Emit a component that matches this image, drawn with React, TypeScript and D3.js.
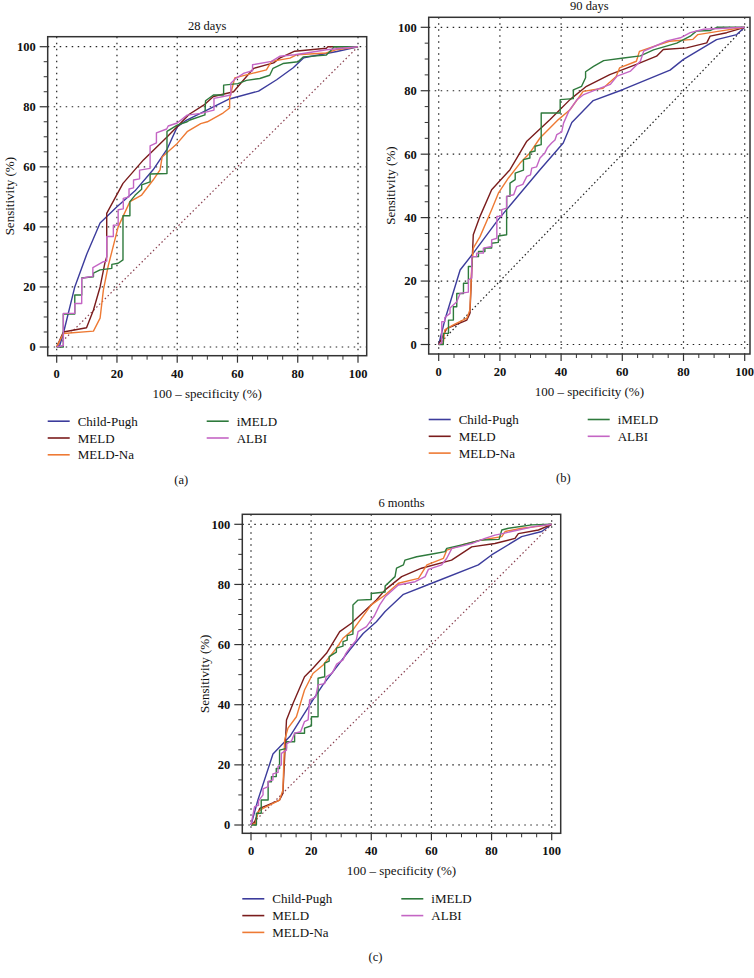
import React, { useEffect, useRef } from 'react';
import * as d3 from 'd3';

type Pt = [number, number];

const seriesNames = ['Child-Pugh', 'MELD', 'MELD-Na', 'iMELD', 'ALBI'];
const seriesColors = ['#3c3c9c', '#7a1c1c', '#ee7a34', '#2e7a3c', '#c465c4'];
const panelTitles = ['28 days', '90 days', '6 months'];
const panelTags = ['(a)', '(b)', '(c)'];
const majorTicks = [0, 20, 40, 60, 80, 100];
const minorTicks = [5, 10, 15, 25, 30, 35, 45, 50, 55, 65, 70, 75, 85, 90, 95];
const chanceLine: Pt[] = [[0, 0], [100, 100]];

// 28 days
const cp28: Pt[] = [[0,0],[1,0.5],[2.2,4.5],[6,20],[10,31],[14.4,41.3],[20,46.7],[26,52],[32,59],[36.7,66],[40,73.3],[43,75.5],[50,79],[57,82.5],[67,85.2],[73,89],[78.5,93],[82,96.3],[93,98.4],[100,100]];
const meld28: Pt[] = [[0,0],[2.2,5],[9.9,6.4],[12.2,12.3],[14.4,20],[16,28],[16.6,30],[16.6,44.5],[22,54.5],[28.8,62.3],[36.7,70],[41,74.4],[44,77.5],[48.9,80.6],[52,83.4],[58.7,85],[63,90.1],[65.4,92.8],[72,94.6],[74,96.2],[79,98.5],[89.5,99.5],[90,100],[100,100]];
const mna28: Pt[] = [[0,0],[2.2,4.5],[12.2,5.3],[14.4,9.6],[15.5,19],[17.1,27],[20.4,40],[24.3,48.4],[28.2,50.6],[32,55.6],[34.3,59],[35,63.3],[40,67.8],[43.3,71.7],[47.8,74.4],[50,75],[55.2,77.9],[57.4,79.6],[57.4,82.9],[59.1,89.6],[65.2,91.2],[69.6,92.3],[71.3,95.1],[77.4,96.2],[79.6,97.3],[89.5,97.9],[92.8,99],[100,100]];
const imeld28: Pt[] = [[0,0],[2.2,0],[2.2,11],[6,11],[6,17.3],[8.3,17.3],[8.3,23],[12.2,23.4],[12.2,24.6],[14.4,25.7],[18.3,26.2],[18.3,27.5],[20.4,27.9],[22,29],[22,43.7],[24.3,43.7],[24.3,48.4],[26,50.5],[28.2,52.5],[28.2,54],[31,55],[31,57.6],[36.6,57.8],[36.6,71.8],[40,73.9],[43.3,75],[44.2,75.6],[49.2,77.3],[49.4,82],[52,83.9],[55.4,83.9],[55.4,87.2],[60.1,87.7],[63,88.8],[67.4,89.4],[70.7,90.5],[71.8,92.8],[75.1,94.4],[80.1,95],[81.8,96.6],[89.5,97.2],[91.7,99.5],[92,100],[100,100]];
const albi28: Pt[] = [[0,0],[2.2,0.5],[2.2,11.2],[6,11.2],[6,14.5],[8.3,14.5],[8.3,22.8],[10.4,23.3],[12,23.5],[12,26.4],[15.5,28.4],[16.6,28.6],[16.6,36.8],[18.8,36.8],[18.8,40.6],[20.4,40.6],[20.4,45.7],[22.1,46],[22.1,49.5],[24,50],[24,52.6],[25.5,53],[25.5,55.6],[27.5,56],[27.5,58.9],[31,59.5],[31,67],[33.1,68],[33.1,71.3],[36.5,72.6],[37,73.6],[40,74.6],[43.3,77.2],[47.8,77.8],[52.2,78.9],[52.2,82.8],[57.8,83.9],[57.8,87.8],[59.4,89.4],[62.2,91.2],[65,92],[65,94],[71.3,95.1],[74,96.8],[79,97.3],[82.9,97.9],[89.5,99],[100,100]];

// 90 days
const cp90: Pt[] = [[0,0],[2,7.7],[7,23.5],[11.3,28.8],[19,38.8],[24.4,45.1],[33.1,55.1],[40.7,63.5],[43.5,70],[50.5,76.9],[60.3,80.4],[75.6,86.5],[80,89.9],[90.8,96.1],[97.4,97.7],[100,100]];
const meld90: Pt[] = [[0,0],[2.6,5],[9.2,7.7],[10.2,9.8],[11.3,34.6],[13.5,40.4],[17.3,48.8],[23.3,55.1],[28.8,64.1],[36.4,70.9],[42.9,77.2],[48.3,81.4],[55.9,85.1],[64.6,88.3],[71.2,90.9],[73.4,93],[81,93.5],[87.6,95.1],[88.7,97.2],[94.1,98.3],[100,100]];
const mna90: Pt[] = [[0,0],[1.5,0.5],[2,4.6],[4.8,6.2],[9.2,8.3],[10.2,10.9],[10.8,24.6],[11.3,30.4],[13.5,34],[17.3,42.5],[19.5,47.7],[22.8,52.5],[26.6,57.2],[29.8,60.4],[33.1,65.1],[39.1,70.9],[42.9,74],[47.2,79.8],[53.7,80.8],[58,84.5],[59.1,87.2],[64.6,89.3],[65.6,92.4],[68.9,93.5],[75.4,95.6],[83.1,96.2],[84.7,97.7],[91.8,98.8],[100,100]];
const imeld90: Pt[] = [[0,0],[1.5,0],[1.5,3.5],[3.2,3.5],[3.2,7.7],[4.8,7.7],[4.8,11.9],[5.9,11.9],[5.9,16.1],[8.1,16.1],[8.1,19.3],[9.7,19.3],[9.7,24.6],[10.8,24.6],[10.8,27.7],[13,27.7],[13,29.3],[15.1,29.3],[15.1,30.4],[17.3,30.4],[17.3,31.9],[19.5,32.2],[19.5,34.2],[22.2,34.6],[22.2,46.7],[23.3,46.7],[23.3,50.9],[25,52],[25,54],[27.7,55],[27.7,58.3],[29.8,58.8],[29.8,60.6],[31.5,61],[31.5,62.5],[33.5,63],[33.5,73],[39.7,73],[39.7,77.2],[44,77.5],[44,80.3],[46.7,81.4],[48,84.1],[48,86],[50.6,87.7],[53.9,89.5],[60.4,90.3],[65.9,91],[70.2,92.9],[77.8,95],[82.2,97.2],[84.2,98.8],[88.8,99],[90.9,100],[100,100]];
const albi90: Pt[] = [[0,0],[1,0.5],[1,7.2],[2,7.2],[2,8.5],[3.7,9.8],[3.7,11.5],[5.9,13.5],[7,16.1],[9.7,16.5],[9.7,20.4],[10.8,21],[10.8,27.7],[12.4,27.7],[12.4,28.8],[14.6,28.8],[14.6,30.4],[17.3,30.9],[17.3,33],[19,33.5],[19,40.4],[20.6,40.4],[20.6,42.5],[22.2,43],[22.2,46.7],[24.5,47.2],[25.5,49.8],[27.5,50.5],[28.8,53],[30,53.5],[30.4,55.6],[32,56],[33.1,58.8],[34.7,60.4],[35.5,62],[36.9,63.5],[38,64.5],[38.6,66.2],[40.2,67],[40.8,69.8],[42.5,73.5],[45.2,77.2],[47.4,78.8],[51.7,80.4],[56.1,82],[58.3,84.6],[62.7,86.2],[65.9,89.3],[67,92.5],[70.8,94.1],[74.6,95.7],[79,96.7],[82.2,98.3],[86.6,99.4],[100,100]];

// 6 months
const cp6m: Pt[] = [[0,0],[2.3,8.3],[7.3,23.6],[12.9,29.4],[20.6,41.6],[23.9,46.6],[32.8,58.2],[37.3,63.7],[41.7,67.6],[44.6,71],[50.7,76.7],[60.1,80.4],[75.6,86.5],[80,89.8],[90,95.9],[96.7,97.6],[100,100]];
const meld6m: Pt[] = [[0,0],[1.2,1],[2.9,5.5],[9.5,8.3],[10.6,10.5],[11.8,34.9],[14,40.5],[17.8,49.3],[20.6,52.1],[25.1,57.1],[29.5,64.3],[33.4,67.1],[41.7,74.8],[44.6,78.2],[50.1,82.6],[56.7,85.4],[66.7,88.1],[73.4,92.5],[81.1,93.6],[87.8,95.3],[88.9,96.9],[95.6,98.1],[100,100]];
const mna6m: Pt[] = [[0,0],[1.5,0.5],[2.3,4.4],[4,5.5],[9.5,8.3],[10.6,11.6],[11.2,28.3],[12.3,32.2],[15.1,36],[17.8,44.9],[20.6,50.4],[24,53.2],[28.4,58.8],[30.6,62.1],[33.9,64.9],[40,73.2],[44.6,76.5],[49,80.4],[55.7,82],[58.5,86.5],[64,88.7],[65.1,91.4],[70.1,93.1],[76.7,94.8],[83.4,95.9],[84.5,97.6],[90,98.7],[95.6,99.3],[100,100]];
const imeld6m: Pt[] = [[0,0],[1.8,0],[1.8,3.9],[3.4,3.9],[3.4,8.3],[5.7,8.3],[5.7,14.4],[6.8,14.4],[6.8,16.1],[8.4,16.1],[8.4,18.8],[9.5,18.8],[9.5,24.9],[11.8,25.5],[11.8,27.7],[14.5,27.7],[14.5,30.5],[17.8,30.5],[17.8,32.2],[20.1,33],[20.1,36],[22.3,36],[22.3,48.8],[24.5,49.3],[24.5,53.8],[26,54.5],[26,56],[28.4,57.5],[28.4,58.8],[30.6,59.5],[30.6,61],[32,61.5],[32,63],[33.9,63.5],[33.9,73.2],[35.6,74.8],[40,75],[40,77],[44.6,77.5],[44.6,79.5],[47.9,82.6],[48.4,85.4],[50.7,86.5],[51.2,88.1],[55.1,89.2],[61.2,90.3],[64.5,90.9],[65.1,92],[70.1,93.1],[76.7,94.8],[82.5,95],[83.4,98.1],[85.6,98.7],[93.4,99.8],[100,100]];
const albi6m: Pt[] = [[0,0],[1.2,6.1],[2.5,6.5],[2.5,8],[4,10],[4,12],[5.7,12.8],[5.7,14.5],[7.3,15],[7.3,17],[9,17.5],[9,19.5],[10.1,20],[10.1,23.8],[11.8,24.9],[11.8,27],[13.5,28],[14.5,30.5],[16.5,31],[17.8,34.4],[19,35],[19.5,41.6],[21.5,42.5],[22.3,46.6],[24.5,47],[25,49.3],[27,50.5],[28.5,53.5],[30.6,54.9],[31.5,57],[32.8,58.8],[35,61.5],[35.6,64.3],[38.4,66],[40,68.2],[41,69.5],[42.8,73.2],[44.6,75.9],[49,79.8],[54.6,80.9],[57.9,82.6],[59,85],[63.4,86.5],[65.1,88.7],[66.8,92],[69,92.5],[73.4,93.6],[77.8,95.3],[81.1,96.4],[84,97],[88.9,98.1],[94.5,99.3],[100,100]];

const panelSeries: Pt[][][] = [
  [cp28, meld28, mna28, imeld28, albi28],
  [cp90, meld90, mna90, imeld90, albi90],
  [cp6m, meld6m, mna6m, imeld6m, albi6m],
];

// layout of each panel (pixels)
const layouts = [
  { box: [47.7, 36.7, 366.7, 355.7], xr: [56.7, 358], yr: [347, 46.7], diag: '#8a4050' },
  { box: [428.7, 17.3, 750, 354], xr: [438.7, 744.7], yr: [344.5, 27.3], diag: '#222' },
  { box: [242.3, 514.3, 560.7, 833.3], xr: [251, 551.7], yr: [825, 524.3], diag: '#8a4050' },
];

const FONT = '"Liberation Serif", "DejaVu Serif", serif';

export default function App() {
  const svgRef = useRef<SVGSVGElement | null>(null);

  useEffect(() => {
    if (!svgRef.current) return;
    const svg = d3.select(svgRef.current);
    svg.selectAll('*').remove();

    layouts.forEach((lay, pi) => {
      const [bx0, by0, bx1, by1] = lay.box;
      const x = d3.scaleLinear().domain([0, 100]).range(lay.xr);
      const y = d3.scaleLinear().domain([0, 100]).range(lay.yr);
      const g = svg.append('g').attr('font-family', FONT).attr('fill', '#111');
      const cx = (bx0 + bx1) / 2;
      const cy = (by0 + by1) / 2;

      // grid
      majorTicks.forEach((t) => {
        g.append('line').attr('x1', x(t)).attr('x2', x(t)).attr('y1', by0).attr('y2', by1)
          .attr('stroke', '#222').attr('stroke-width', 1.2).attr('stroke-dasharray', '1.5,4.5');
        g.append('line').attr('y1', y(t)).attr('y2', y(t)).attr('x1', bx0).attr('x2', bx1)
          .attr('stroke', '#222').attr('stroke-width', 1.2).attr('stroke-dasharray', '1.5,4.5');
      });

      const line = d3.line<Pt>().x((d) => x(d[0])).y((d) => y(d[1]));

      // chance diagonal
      g.append('path').attr('d', line(chanceLine) || '').attr('fill', 'none')
        .attr('stroke', lay.diag).attr('stroke-width', 1.2).attr('stroke-dasharray', '1.5,2.5');

      // ROC curves
      panelSeries[pi].forEach((pts, si) => {
        g.append('path').attr('d', line(pts) || '').attr('fill', 'none')
          .attr('stroke', seriesColors[si]).attr('stroke-width', 1.4)
          .attr('stroke-linejoin', 'round');
      });

      // frame
      g.append('rect').attr('x', bx0).attr('y', by0).attr('width', bx1 - bx0).attr('height', by1 - by0)
        .attr('fill', 'none').attr('stroke', '#333').attr('stroke-width', 1.5);

      // ticks
      majorTicks.forEach((t) => {
        g.append('line').attr('x1', bx0 - 8).attr('x2', bx0).attr('y1', y(t)).attr('y2', y(t))
          .attr('stroke', '#333').attr('stroke-width', 1.2);
        g.append('line').attr('y1', by1).attr('y2', by1 + 7).attr('x1', x(t)).attr('x2', x(t))
          .attr('stroke', '#333').attr('stroke-width', 1.2);
        g.append('text').attr('x', bx0 - 12).attr('y', y(t)).attr('dy', '0.35em')
          .attr('text-anchor', 'end').attr('font-size', 12.5).attr('font-weight', 'bold').text(t);
        g.append('text').attr('x', x(t)).attr('y', by1 + 22)
          .attr('text-anchor', 'middle').attr('font-size', 12.5).attr('font-weight', 'bold').text(t);
      });
      minorTicks.forEach((t) => {
        g.append('line').attr('x1', bx0 - 4).attr('x2', bx0).attr('y1', y(t)).attr('y2', y(t))
          .attr('stroke', '#333').attr('stroke-width', 1);
        g.append('line').attr('y1', by1).attr('y2', by1 + 4).attr('x1', x(t)).attr('x2', x(t))
          .attr('stroke', '#333').attr('stroke-width', 1);
      });

      // titles and labels
      g.append('text').attr('x', cx).attr('y', by0 - 7).attr('text-anchor', 'middle')
        .attr('font-size', 12.5).text(panelTitles[pi]);
      g.append('text').attr('x', cx).attr('y', by1 + 42).attr('text-anchor', 'middle')
        .attr('font-size', 13).text('100 – specificity (%)');
      g.append('text').attr('transform', `translate(${bx0 - 38},${cy}) rotate(-90)`)
        .attr('dy', '0.35em').attr('text-anchor', 'middle').attr('font-size', 13).text('Sensitivity (%)');

      // legend
      seriesNames.forEach((name, si) => {
        const col = si < 3 ? 0 : 1;
        const row = si < 3 ? si : si - 3;
        const lx = bx0 + col * 159;
        const ly = by1 + 65.5 + row * 16.8;
        g.append('line').attr('x1', lx).attr('x2', lx + 22).attr('y1', ly).attr('y2', ly)
          .attr('stroke', seriesColors[si]).attr('stroke-width', 1.6);
        g.append('text').attr('x', lx + 30).attr('y', ly).attr('dy', '0.35em')
          .attr('font-size', 13).text(name);
      });

      g.append('text').attr('x', cx - 26).attr('y', by1 + 128).attr('text-anchor', 'middle')
        .attr('font-size', 12.5).text(panelTags[pi]);
    });
  }, []);

  return (
    <svg
      ref={svgRef}
      width={754}
      height={978}
      style={{ position: 'absolute', left: 0, top: 0, background: '#fff' }}
    />
  );
}
